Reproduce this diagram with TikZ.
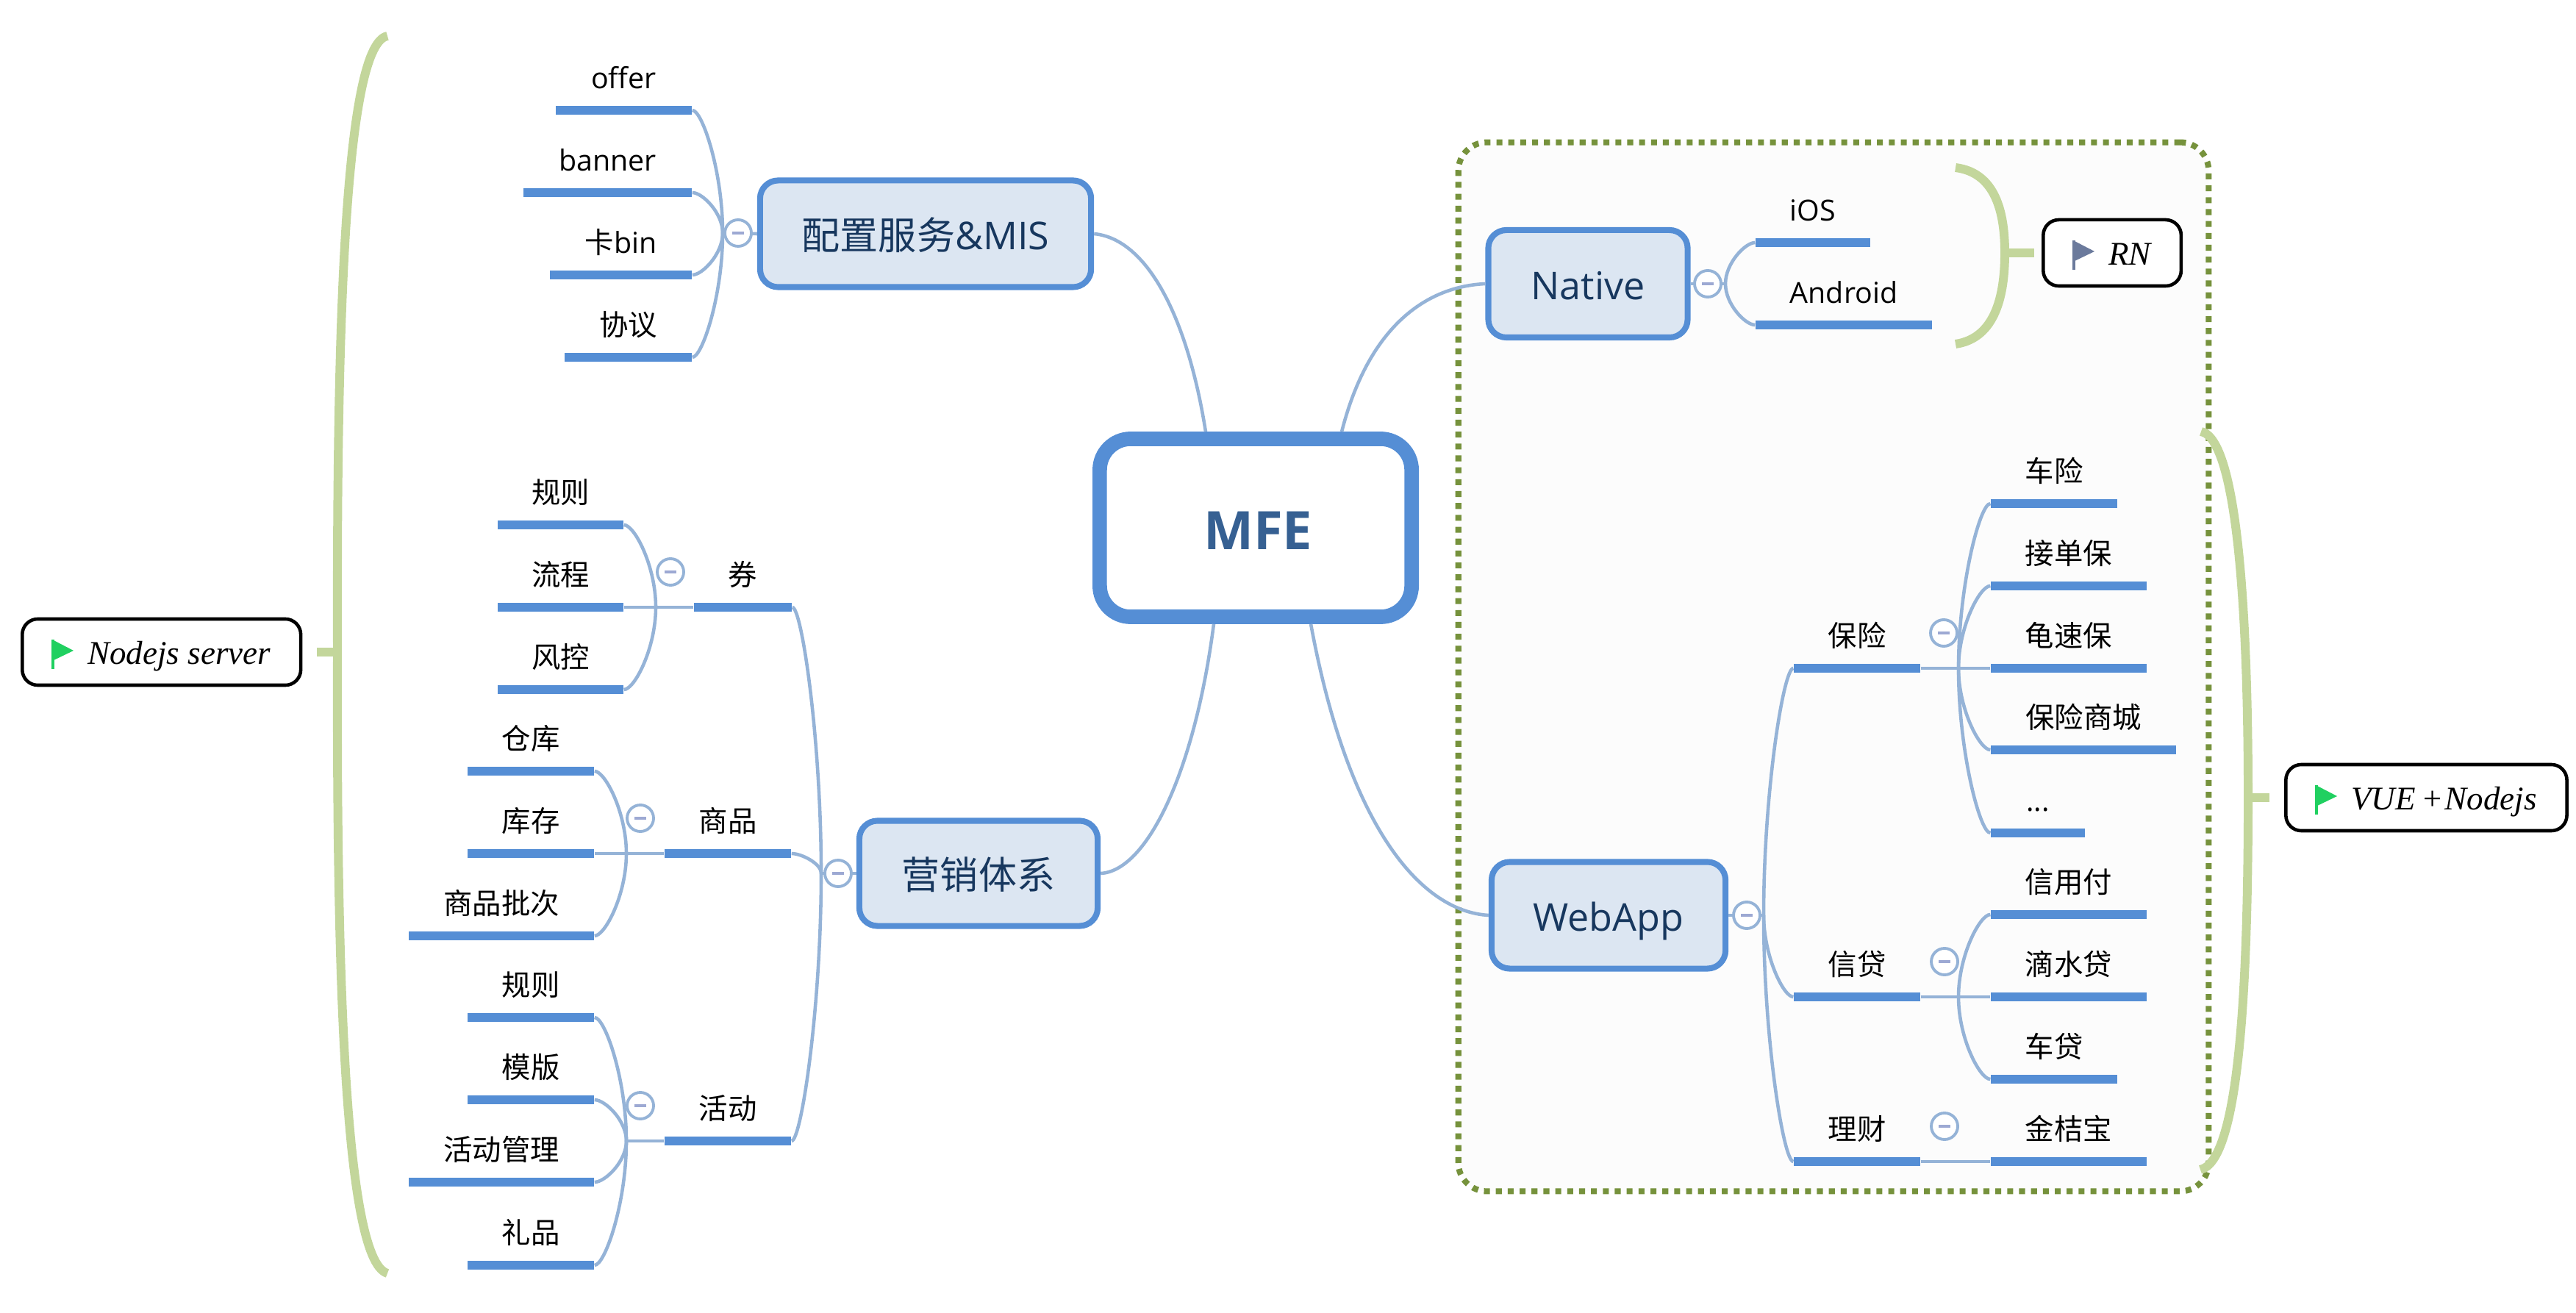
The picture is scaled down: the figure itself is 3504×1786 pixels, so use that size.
\documentclass[tikz,border=0pt]{standalone}
\usepackage{fontspec}
\setmainfont{Open Sans}
\newfontfamily\cjk{Noto Sans CJK SC}
\newfontfamily\tagfont{Liberation Serif}
\usetikzlibrary{calc,positioning}

\definecolor{barblue}{HTML}{558ED5}
\definecolor{linkblue}{HTML}{95B3D7}
\definecolor{boxfill}{HTML}{DCE6F2}
\definecolor{boxtext}{HTML}{17375E}
\definecolor{roottext}{HTML}{366092}
\definecolor{bracegreen}{HTML}{C3D69B}
\definecolor{frameolive}{HTML}{76923C}
\definecolor{minusblue}{HTML}{9DA9D3}
\definecolor{flaggreen}{HTML}{20D060}
\definecolor{flaggrey}{HTML}{6B7A9C}

\tikzset{
  rootbox/.style={draw=barblue,line width=5.6pt,rounded corners=12pt,fill=white,
    text=roottext,font=\fontsize{20.5}{24}\selectfont\bfseries,minimum width=4.24cm,minimum height=2.42cm,
    text height=20pt,text depth=3pt},
  topicbox/.style={draw=barblue,line width=2.3pt,rounded corners=7pt,fill=boxfill,
    text=boxtext,font=\fontsize{14.8}{18}\selectfont,text height=15pt,text depth=2.8pt},
  leafbar/.style={fill=barblue,inner sep=0pt,minimum height=3.3pt},
  leaftext/.style={anchor=base,inner sep=0pt,font=\fontsize{11.2}{14}\selectfont},
  link/.style={draw=linkblue,line width=1.3pt},
  branch/.style={to path={.. controls ($(\tikztostart)!.5!(\tikztostart|-\tikztotarget)$)
    and ($(\tikztotarget)!.33!(\tikztostart|-\tikztotarget)$) .. (\tikztotarget)}},
  collapse/.style={circle,draw=linkblue,line width=1.1pt,fill=white,inner sep=0pt,minimum size=.36cm,
    path picture={\draw[minusblue,line width=1.1pt] ([xshift=-.08cm]path picture bounding box.center)
      -- ([xshift=.08cm]path picture bounding box.center);}},
  brace/.style={draw=bracegreen,line width=3.4pt},
  tagbox/.style={draw=black,line width=1.3pt,rounded corners=6pt,fill=white,anchor=west,
    inner xsep=.41cm,minimum height=.9cm,text height=12.5pt,text depth=2.9pt,
    font=\fontsize{12.8}{15}\selectfont\tagfont\itshape},
  platform/.style={draw=frameolive,line width=2.3pt,dash pattern=on 2.3pt off 2.3pt,
    rounded corners=11pt,fill=black!1,minimum width=10.2cm,minimum height=14.26cm}
}

\newcommand{\zh}[1]{{\cjk #1}}
\newcommand{\leaf}[5]{
  \node[leafbar,minimum width={(#3-#2)*0.01cm}] (#1) at ({(#2+#3)/2},#4) {};
  \node[leaftext] (#1text) at ([yshift=.29cm]#1.center) {#5};
}
\newcommand{\flagmark}[2]{
  \fill[#2] ([xshift=.43cm,yshift=.17cm]#1.west) -- ++(29,15) -- ++(-29,14) -- cycle;
  \draw[#2,line width=.9pt] ([xshift=.44cm,yshift=.17cm]#1.west) -- ++(0,40);
}

\begin{document}
\begin{tikzpicture}[x=0.01cm,y=-0.01cm]
\useasboundingbox (0,0) rectangle (3504,1786);

\node[platform] (appframe) at (2494,907) {};

\leaf{offer}{756}{941}{150}{offer}
\leaf{banner}{712}{941}{262}{banner}
\leaf{cardbin}{748}{941}{374}{\zh{卡}bin}
\leaf{agreement}{768}{941}{486}{\zh{协议}}

\leaf{couponrule}{677}{848}{714}{\zh{规则}}
\leaf{couponflow}{677}{848}{826}{\zh{流程}}
\leaf{couponrisk}{677}{848}{938}{\zh{风控}}
\leaf{coupon}{944}{1077}{826}{\zh{券}}

\leaf{storage}{636}{808}{1049}{\zh{仓库}}
\leaf{stock}{636}{808}{1161}{\zh{库存}}
\leaf{batch}{556}{808}{1273}{\zh{商品批次}}
\leaf{goods}{904}{1076}{1161}{\zh{商品}}

\leaf{eventrule}{636}{808}{1384}{\zh{规则}}
\leaf{template}{636}{808}{1496}{\zh{模版}}
\leaf{eventadmin}{556}{808}{1608}{\zh{活动管理}}
\leaf{gift}{636}{808}{1721}{\zh{礼品}}
\leaf{event}{904}{1076}{1552}{\zh{活动}}

\leaf{ios}{2388}{2544}{330}{iOS}
\leaf{android}{2388}{2628}{442}{Android}

\leaf{insure}{2440}{2612}{909}{\zh{保险}}
\leaf{carinsure}{2708}{2880}{685}{\zh{车险}}
\leaf{orderinsure}{2708}{2920}{797}{\zh{接单保}}
\leaf{slowinsure}{2708}{2920}{909}{\zh{龟速保}}
\leaf{insuremall}{2708}{2960}{1020}{\zh{保险商城}}
\leaf{more}{2708}{2836}{1133}{...}

\leaf{credit}{2440}{2612}{1356}{\zh{信贷}}
\leaf{creditpay}{2708}{2920}{1244}{\zh{信用付}}
\leaf{dripcredit}{2708}{2920}{1356}{\zh{滴水贷}}
\leaf{carcredit}{2708}{2880}{1468}{\zh{车贷}}

\leaf{finance}{2440}{2612}{1580}{\zh{理财}}
\leaf{jinjie}{2708}{2920}{1580}{\zh{金桔宝}}

\node[rootbox] (mfe) at (1708,718) {\hspace{.06cm}MFE};
\node[topicbox,minimum width=4.50cm,minimum height=1.45cm] (config) at (1259,318) {\zh{配置服务}\&MIS};
\node[topicbox,minimum width=3.24cm,minimum height=1.43cm] (market) at (1331,1188) {\zh{营销体系}};
\node[topicbox,minimum width=2.71cm,minimum height=1.46cm] (native) at (2160,386) {Native};
\node[topicbox,minimum width=3.18cm,minimum height=1.45cm] (webapp) at (2188,1245) {WebApp};

\coordinate (configjoint) at (983,317);
\coordinate (couponjoint) at (892,826);
\coordinate (goodsjoint) at (852,1161);
\coordinate (eventjoint) at (852,1552);
\coordinate (marketjoint) at (1117,1188);
\coordinate (nativejoint) at (2347,386);
\coordinate (webjoint) at (2399,1245);
\coordinate (insurejoint) at (2664,909);
\coordinate (creditjoint) at (2664,1356);

\draw[link] (config.east) .. controls (1560,325) and (1615,430) .. ([xshift=-.68cm]mfe.north);
\draw[link] (native.west) .. controls (1935,390) and (1860,450) .. ([xshift=1.17cm]mfe.north);
\draw[link] (market.east) .. controls (1560,1185) and (1625,1050) .. ([xshift=-.57cm]mfe.south);
\draw[link] (webapp.west) .. controls (1935,1240) and (1835,1130) .. ([xshift=.75cm]mfe.south);

\draw[link] (config.west) -- (configjoint);
\draw[link] (configjoint) to[branch] (offer.east);
\draw[link] (configjoint) to[branch] (banner.east);
\draw[link] (configjoint) to[branch] (cardbin.east);
\draw[link] (configjoint) to[branch] (agreement.east);

\draw[link] (market.west) -- (marketjoint);
\draw[link] (marketjoint) to[branch] (coupon.east);
\draw[link] (marketjoint) to[branch] (goods.east);
\draw[link] (marketjoint) to[branch] (event.east);

\draw[link] (coupon.west) -- (couponflow.east);
\draw[link] (couponjoint) to[branch] (couponrule.east);
\draw[link] (couponjoint) to[branch] (couponrisk.east);

\draw[link] (goods.west) -- (stock.east);
\draw[link] (goodsjoint) to[branch] (storage.east);
\draw[link] (goodsjoint) to[branch] (batch.east);

\draw[link] (event.west) -- (eventjoint);
\draw[link] (eventjoint) to[branch] (eventrule.east);
\draw[link] (eventjoint) to[branch] (template.east);
\draw[link] (eventjoint) to[branch] (eventadmin.east);
\draw[link] (eventjoint) to[branch] (gift.east);

\draw[link] (native.east) -- (nativejoint);
\draw[link] (nativejoint) to[branch] (ios.west);
\draw[link] (nativejoint) to[branch] (android.west);

\draw[link] (webapp.east) -- (webjoint);
\draw[link] (webjoint) to[branch] (insure.west);
\draw[link] (webjoint) to[branch] (credit.west);
\draw[link] (webjoint) to[branch] (finance.west);

\draw[link] (insure.east) -- (slowinsure.west);
\draw[link] (insurejoint) to[branch] (carinsure.west);
\draw[link] (insurejoint) to[branch] (orderinsure.west);
\draw[link] (insurejoint) to[branch] (insuremall.west);
\draw[link] (insurejoint) to[branch] (more.west);

\draw[link] (credit.east) -- (dripcredit.west);
\draw[link] (creditjoint) to[branch] (creditpay.west);
\draw[link] (creditjoint) to[branch] (carcredit.west);

\draw[link] (finance.east) -- (jinjie.west);

\node[collapse] (configfold) at (1004,317) {};
\node[collapse] (couponfold) at (912,778) {};
\node[collapse] (goodsfold) at (871,1113) {};
\node[collapse] (eventfold) at (871,1504) {};
\node[collapse] (marketfold) at (1140,1188) {};
\node[collapse] (nativefold) at (2323,386) {};
\node[collapse] (webfold) at (2376,1245) {};
\node[collapse] (insurefold) at (2644,861) {};
\node[collapse] (creditfold) at (2645,1308) {};
\node[collapse] (financefold) at (2645,1532) {};

\node[tagbox] (servertag) at (28,887) {\hspace{.48cm}Nodejs server};
\node[tagbox] (rntag) at (2777,344) {\hspace{.48cm}RN};
\node[tagbox] (vuetag) at (3107,1085) {\hspace{.48cm}VUE\,+\kern.5pt Nodejs};
\flagmark{servertag}{flaggreen}
\flagmark{rntag}{flaggrey}
\flagmark{vuetag}{flaggreen}

\coordinate (servermid) at (459,887);
\coordinate (rnmid) at (2727,344);
\coordinate (vuemid) at (3058,1085);

\draw[brace] (527,49) .. controls (465,60) and (458,500) .. (servermid)
  .. controls (458,1270) and (465,1715) .. (527,1732);
\draw[brace,shorten <=.2cm] (servertag.east) -- (servermid);

\draw[brace] (2660,228) .. controls (2715,235) and (2727,290) .. (rnmid)
  .. controls (2727,400) and (2715,460) .. (2660,468);
\draw[brace,shorten <=.1cm] (rntag.west) -- (rnmid);

\draw[brace] (2994,587) .. controls (3045,597) and (3058,850) .. (vuemid)
  .. controls (3058,1350) and (3045,1580) .. (2993,1591);
\draw[brace,shorten <=.2cm] (vuetag.west) -- (vuemid);
\end{tikzpicture}
\end{document}
